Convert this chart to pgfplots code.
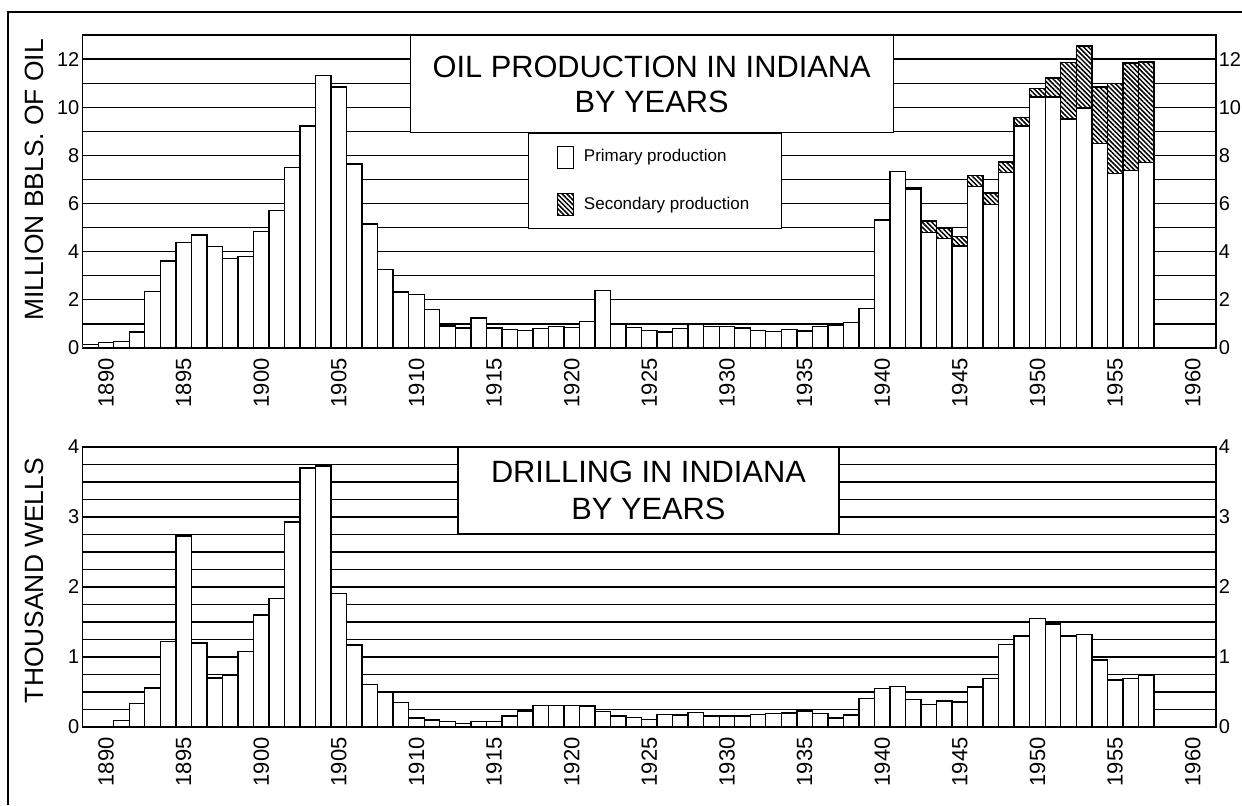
\documentclass[border=0pt]{standalone}
\usepackage{pgfplots}
\pgfplotsset{compat=1.18}
\usepackage{pgfplotstable}
\usepackage{fontspec}
\setmainfont{Liberation Sans}
\usetikzlibrary{patterns.meta}

\pgfplotstableread{
year prim sec
1889 0.15 0
1890 0.23 0
1891 0.28 0
1892 0.67 0
1893 2.35 0
1894 3.61 0
1895 4.38 0
1896 4.70 0
1897 4.21 0
1898 3.71 0
1899 3.79 0
1900 4.84 0
1901 5.72 0
1902 7.49 0
1903 9.22 0
1904 11.33 0
1905 10.84 0
1906 7.64 0
1907 5.15 0
1908 3.26 0
1909 2.33 0
1910 2.22 0
1911 1.60 0
1912 0.92 0
1913 0.83 0
1914 1.25 0
1915 0.83 0
1916 0.76 0
1917 0.73 0
1918 0.80 0
1919 0.89 0
1920 0.85 0
1921 1.11 0
1922 2.38 0
1923 0.97 0
1924 0.86 0
1925 0.73 0
1926 0.67 0
1927 0.80 0
1928 1.00 0
1929 0.90 0
1930 0.90 0
1931 0.83 0
1932 0.73 0
1933 0.68 0
1934 0.77 0
1935 0.70 0
1936 0.89 0
1937 0.93 0
1938 1.07 0
1939 1.65 0
1940 5.31 0
1941 7.33 0
1942 6.60 0.06
1943 4.80 0.48
1944 4.55 0.42
1945 4.24 0.39
1946 6.71 0.46
1947 5.95 0.48
1948 7.28 0.45
1949 9.22 0.36
1950 10.42 0.37
1951 10.42 0.79
1952 9.51 2.36
1953 9.96 2.58
1954 8.49 2.35
1955 7.24 3.74
1956 7.38 4.46
1957 7.70 4.18
}\oiltable

\pgfplotstableread{
year wells
1891 0.09
1892 0.34
1893 0.56
1894 1.22
1895 2.73
1896 1.20
1897 0.70
1898 0.74
1899 1.08
1900 1.60
1901 1.84
1902 2.93
1903 3.70
1904 3.73
1905 1.91
1906 1.17
1907 0.61
1908 0.49
1909 0.35
1910 0.13
1911 0.10
1912 0.08
1913 0.05
1914 0.08
1915 0.08
1916 0.16
1917 0.23
1918 0.31
1919 0.31
1920 0.31
1921 0.30
1922 0.22
1923 0.16
1924 0.14
1925 0.11
1926 0.18
1927 0.17
1928 0.21
1929 0.16
1930 0.16
1931 0.16
1932 0.18
1933 0.19
1934 0.20
1935 0.23
1936 0.19
1937 0.13
1938 0.17
1939 0.41
1940 0.55
1941 0.58
1942 0.39
1943 0.32
1944 0.37
1945 0.36
1946 0.57
1947 0.69
1948 1.18
1949 1.30
1950 1.55
1951 1.47
1952 1.30
1953 1.32
1954 0.96
1955 0.67
1956 0.69
1957 0.74
}\drilltable

\pgfplotsset{
  common/.style={
    scale only axis, width=566.65pt,
    xmin=1888.5, xmax=1961.5,
    xtick={1890,1895,...,1960},
    major tick length=0pt, minor tick length=0pt,
    /pgf/number format/assume math mode=true,
    /pgf/number format/1000 sep={},
    xticklabel style={rotate=90, anchor=east, inner sep=0pt, font=\fontsize{11}{11}\selectfont},
    xticklabel shift=5pt,
    yticklabel style={font=\fontsize{10}{10}\selectfont, inner xsep=1.5pt},
    axis line style={line width=0.8pt},
    ylabel style={font=\fontsize{13.2}{13.2}\selectfont, anchor=center},
  },
  gridded/.style={
    ymajorgrids, yminorgrids,
    major grid style={line width=0.6pt, black},
    minor grid style={line width=0.6pt, black},
  },
  rightside/.style={
    yticklabel pos=right, hide x axis,
    axis line style={draw=none},
    yticklabel style={inner xsep=1.2pt},
  },
  boxlegend/.style={legend image code/.code={\draw[#1] (0pt,-5.5pt) rectangle (8pt,5.5pt);}},
}

\begin{document}
\begin{tikzpicture}
\useasboundingbox (0,0) rectangle (621pt,402.5pt);
\draw[line width=0.6pt] (4pt,0pt) -- (4pt,396.5pt) -- (621pt,396.5pt);

% ---------- top panel ----------
\begin{axis}[common, gridded,
  at={(41.35pt,228.5pt)}, anchor=south west, height=156.5pt,
  ymin=0, ymax=13,
  ytick={0,2,...,12}, minor ytick={1,3,...,13},
  ybar stacked, bar width=1,
  ylabel={MILLION BBLS. OF OIL},
  ylabel style={at={(axis description cs:-0.0424,0.537)}},
  legend style={at={(0.3929,0.687)}, anchor=north west, draw=black, line width=0.6pt,
    fill=white, font=\fontsize{8.5}{10}\selectfont, inner xsep=14pt, inner ysep=6pt,
    row sep=12pt, cells={anchor=west}, nodes={inner sep=2pt},
    /tikz/every odd column/.append style={column sep=3pt}},
]
\addplot[boxlegend, fill=white, draw=black, line width=0.7pt] table[x=year,y=prim]{\oiltable};
\addlegendentry{Primary production}
\addplot[boxlegend, fill=white, draw=black, line width=0.7pt,
  postaction={pattern={Lines[angle=-45,distance=1.7pt,line width=0.75pt]}}] table[x=year,y=sec]{\oiltable};
\addlegendentry{Secondary production}
\node[anchor=north, draw=black, line width=0.6pt, fill=white, minimum width=241.5pt,
  minimum height=48.5pt, align=center, font=\fontsize{15.4}{17.5}\selectfont]
  at (rel axis cs:0.502,1) {OIL PRODUCTION IN INDIANA\\BY YEARS};
\end{axis}
\begin{axis}[common, rightside,
  at={(41.35pt,228.5pt)}, anchor=south west, height=156.5pt,
  ymin=0, ymax=13, ytick={0,2,...,12}]
\addplot[draw=none, forget plot] coordinates {(1900,0)};
\end{axis}

% ---------- bottom panel ----------
\begin{axis}[common, gridded,
  at={(41.35pt,39pt)}, anchor=south west, height=140pt,
  ymin=0, ymax=4,
  ytick={0,1,2,3,4}, minor ytick={0.25,0.5,...,3.75},
  ybar, bar width=1,
  ylabel={THOUSAND WELLS},
  ylabel style={at={(axis description cs:-0.0424,0.523)}},
]
\addplot[fill=white, draw=black, line width=0.7pt, bar shift=0pt] table[x=year,y=wells]{\drilltable};
\node[anchor=north, draw=black, line width=0.6pt, fill=white, minimum width=190.5pt,
  minimum height=43pt, align=center, font=\fontsize{15.4}{18.5}\selectfont]
  at (rel axis cs:0.4992,1) {DRILLING IN INDIANA\\BY YEARS};
\end{axis}
\begin{axis}[common, rightside,
  at={(41.35pt,39pt)}, anchor=south west, height=140pt,
  ymin=0, ymax=4, ytick={0,1,2,3,4}]
\addplot[draw=none, forget plot] coordinates {(1900,0)};
\end{axis}
\end{tikzpicture}
\end{document}
